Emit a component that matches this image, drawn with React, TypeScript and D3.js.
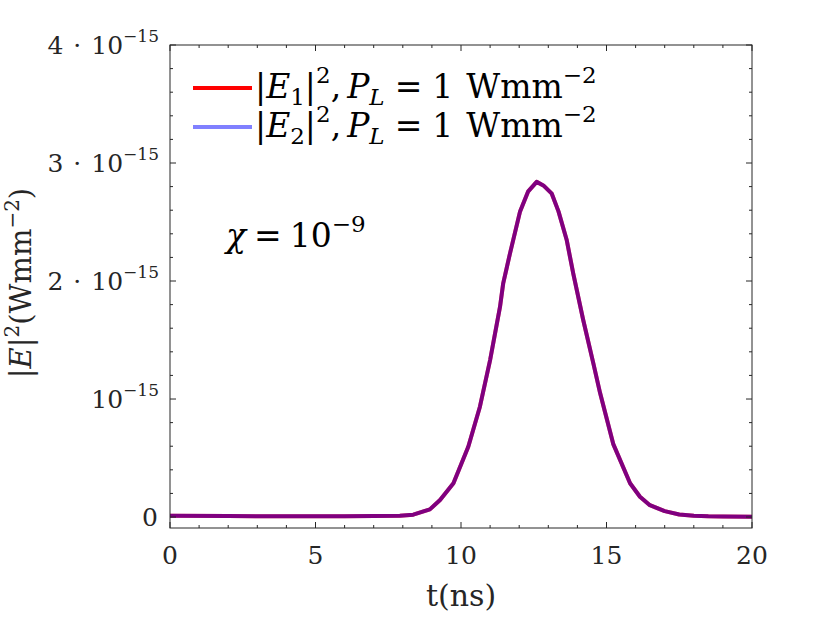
import { useEffect } from 'react';
import * as d3 from 'd3';

// time axis (ns)
const tValues = [
  0, 2, 4, 6, 7, 7.9, 8.36, 8.93, 9.28, 9.74, 10.25, 10.65, 11.0, 11.34, 11.45,
  11.68, 12.03, 12.31, 12.6, 12.83, 13.12, 13.35, 13.63, 13.86, 14.2, 14.55,
  14.78, 15.23, 15.81, 16.15, 16.49, 17, 17.5, 18, 18.5, 19, 20,
];
// |E1|^2 in units of 1e-15 W mm^-2
const e1Values = [
  0.01, 0.008, 0.006, 0.007, 0.008, 0.01, 0.02, 0.065, 0.144, 0.286, 0.596,
  0.935, 1.33, 1.78, 1.98, 2.23, 2.59, 2.76, 2.84, 2.81, 2.74, 2.59, 2.35, 2.06,
  1.67, 1.3, 1.05, 0.62, 0.286, 0.172, 0.1, 0.05, 0.022, 0.01, 0.006, 0.005,
  0.003,
];
// |E2|^2 overlaps |E1|^2 exactly
const e2Values = [...e1Values];

const xMajorTicks = [0, 5, 10, 15, 20];
const yMajorTicks = [0, 1, 2, 3, 4];
const yTickPrefix = ['', '', '2', '3', '4'];

const width = 830;
const height = 623;
const margin = { left: 170, right: 78, top: 45, bottom: 95 };
const FONT = '"DejaVu Serif", serif';

export default function App() {
  useEffect(() => {
    document.body.style.margin = '0';
  }, []);

  const x = d3
    .scaleLinear()
    .domain([0, 20])
    .range([margin.left, width - margin.right]);
  const y = d3
    .scaleLinear()
    .domain([-0.093, 4])
    .range([height - margin.bottom, margin.top]);

  const [x0, x1] = x.range();
  const [yb, yt] = y.range();

  const line = d3
    .line<number>()
    .x((_, i) => x(tValues[i]))
    .y((d) => y(d));

  const xMinor = d3.range(0, 21, 1).filter((v) => v % 5 !== 0);
  const yMinor = d3.range(0, 4.01, 0.2).filter((v) => Math.abs(v - Math.round(v)) > 0.01);

  const tickCol = '#262626';
  const txt = { fontFamily: FONT };

  return (
    <svg width={width} height={height} style={{ display: 'block' }}>
      <rect width={width} height={height} fill="#fff" />

      {/* curves: red then half-transparent blue */}
      <path d={line(e1Values) ?? ''} fill="none" stroke="#ff0000" strokeWidth={4} strokeLinejoin="round" />
      <path d={line(e2Values) ?? ''} fill="none" stroke="#0000ff" strokeOpacity={0.5} strokeWidth={4} strokeLinejoin="round" />

      {/* box */}
      <rect x={x0} y={yt} width={x1 - x0} height={yb - yt} fill="none" stroke={tickCol} strokeWidth={1} />

      {/* x ticks */}
      {xMajorTicks.map((v) => (
        <g key={'xm' + v}>
          <line x1={x(v)} x2={x(v)} y1={yb} y2={yb - 6} stroke={tickCol} />
          <line x1={x(v)} x2={x(v)} y1={yt} y2={yt + 6} stroke={tickCol} />
          <text x={x(v)} y={yb + 36} textAnchor="middle" fontSize={25} fill="#262626" style={txt}>
            {v}
          </text>
        </g>
      ))}
      {xMinor.map((v) => (
        <g key={'xn' + v}>
          <line x1={x(v)} x2={x(v)} y1={yb} y2={yb - 3} stroke={tickCol} />
          <line x1={x(v)} x2={x(v)} y1={yt} y2={yt + 3} stroke={tickCol} />
        </g>
      ))}

      {/* y ticks */}
      {yMajorTicks.map((v, i) => (
        <g key={'ym' + v}>
          <line x1={x0} x2={x0 + 6} y1={y(v)} y2={y(v)} stroke={tickCol} />
          <line x1={x1} x2={x1 - 6} y1={y(v)} y2={y(v)} stroke={tickCol} />
          {v === 0 ? (
            <text x={x0 - 12} y={y(v) + 9} textAnchor="end" fontSize={25} fill="#262626" style={txt}>
              0
            </text>
          ) : (
            <text x={x0 - 11} y={y(v) + 9} textAnchor="end" fontSize={25} fill="#262626" style={txt}>
              {yTickPrefix[i] && (
                <>
                  {yTickPrefix[i]}
                  <tspan dx={10}>·</tspan>
                  <tspan dx={10}>10</tspan>
                </>
              )}
              {!yTickPrefix[i] && '10'}
              <tspan dy={-12} fontSize={17}>
                −15
              </tspan>
            </text>
          )}
        </g>
      ))}
      {yMinor.map((v) => (
        <g key={'yn' + v.toFixed(1)}>
          <line x1={x0} x2={x0 + 3} y1={y(v)} y2={y(v)} stroke={tickCol} />
          <line x1={x1} x2={x1 - 3} y1={y(v)} y2={y(v)} stroke={tickCol} />
        </g>
      ))}

      {/* axis labels */}
      <text x={(x0 + x1) / 2} y={606} textAnchor="middle" fontSize={30} fill="#262626" style={txt}>
        t(ns)
      </text>
      <text
        transform={`translate(31, 283) rotate(-90)`}
        textAnchor="middle"
        fontSize={29}
        fill="#262626"
        style={txt}
      >
        |<tspan fontStyle="italic">E</tspan>|
        <tspan dy={-12} fontSize={20}>2</tspan>
        <tspan dy={12}>(Wmm</tspan>
        <tspan dy={-12} fontSize={20}>−2</tspan>
        <tspan dy={12}>)</tspan>
      </text>

      {/* legend */}
      {[
        { color: '#ff0000', idx: '1', yy: 88 },
        { color: '#8080ff', idx: '2', yy: 127 },
      ].map((d) => (
        <g key={d.idx}>
          <line x1={193} x2={252} y1={d.yy} y2={d.yy} stroke={d.color} strokeWidth={4} />
          <text x={255} y={d.yy + 10} fontSize={33} fill="#000" style={txt}>
            |<tspan fontStyle="italic">E</tspan>
            <tspan dy={7} fontSize={23}>{d.idx}</tspan>
            <tspan dy={-7}>|</tspan>
            <tspan dy={-15} fontSize={23}>2</tspan>
            <tspan dy={15}>,</tspan>
            <tspan dx={6} fontStyle="italic">P</tspan>
            <tspan dy={7} fontSize={23} fontStyle="italic">L</tspan>
            <tspan dy={-7} dx={10}>=</tspan>
            <tspan dx={10}>1</tspan>
            <tspan dx={13}>Wmm</tspan>
            <tspan dy={-15} fontSize={23}>−2</tspan>
          </text>
        </g>
      ))}

      {/* annotation */}
      <text x={226} y={247} fontSize={33} fill="#000" style={txt}>
        <tspan fontStyle="italic">χ</tspan>
        <tspan dx={8}>=</tspan>
        <tspan dx={8}>10</tspan>
        <tspan dy={-15} fontSize={23}>−9</tspan>
      </text>
    </svg>
  );
}
